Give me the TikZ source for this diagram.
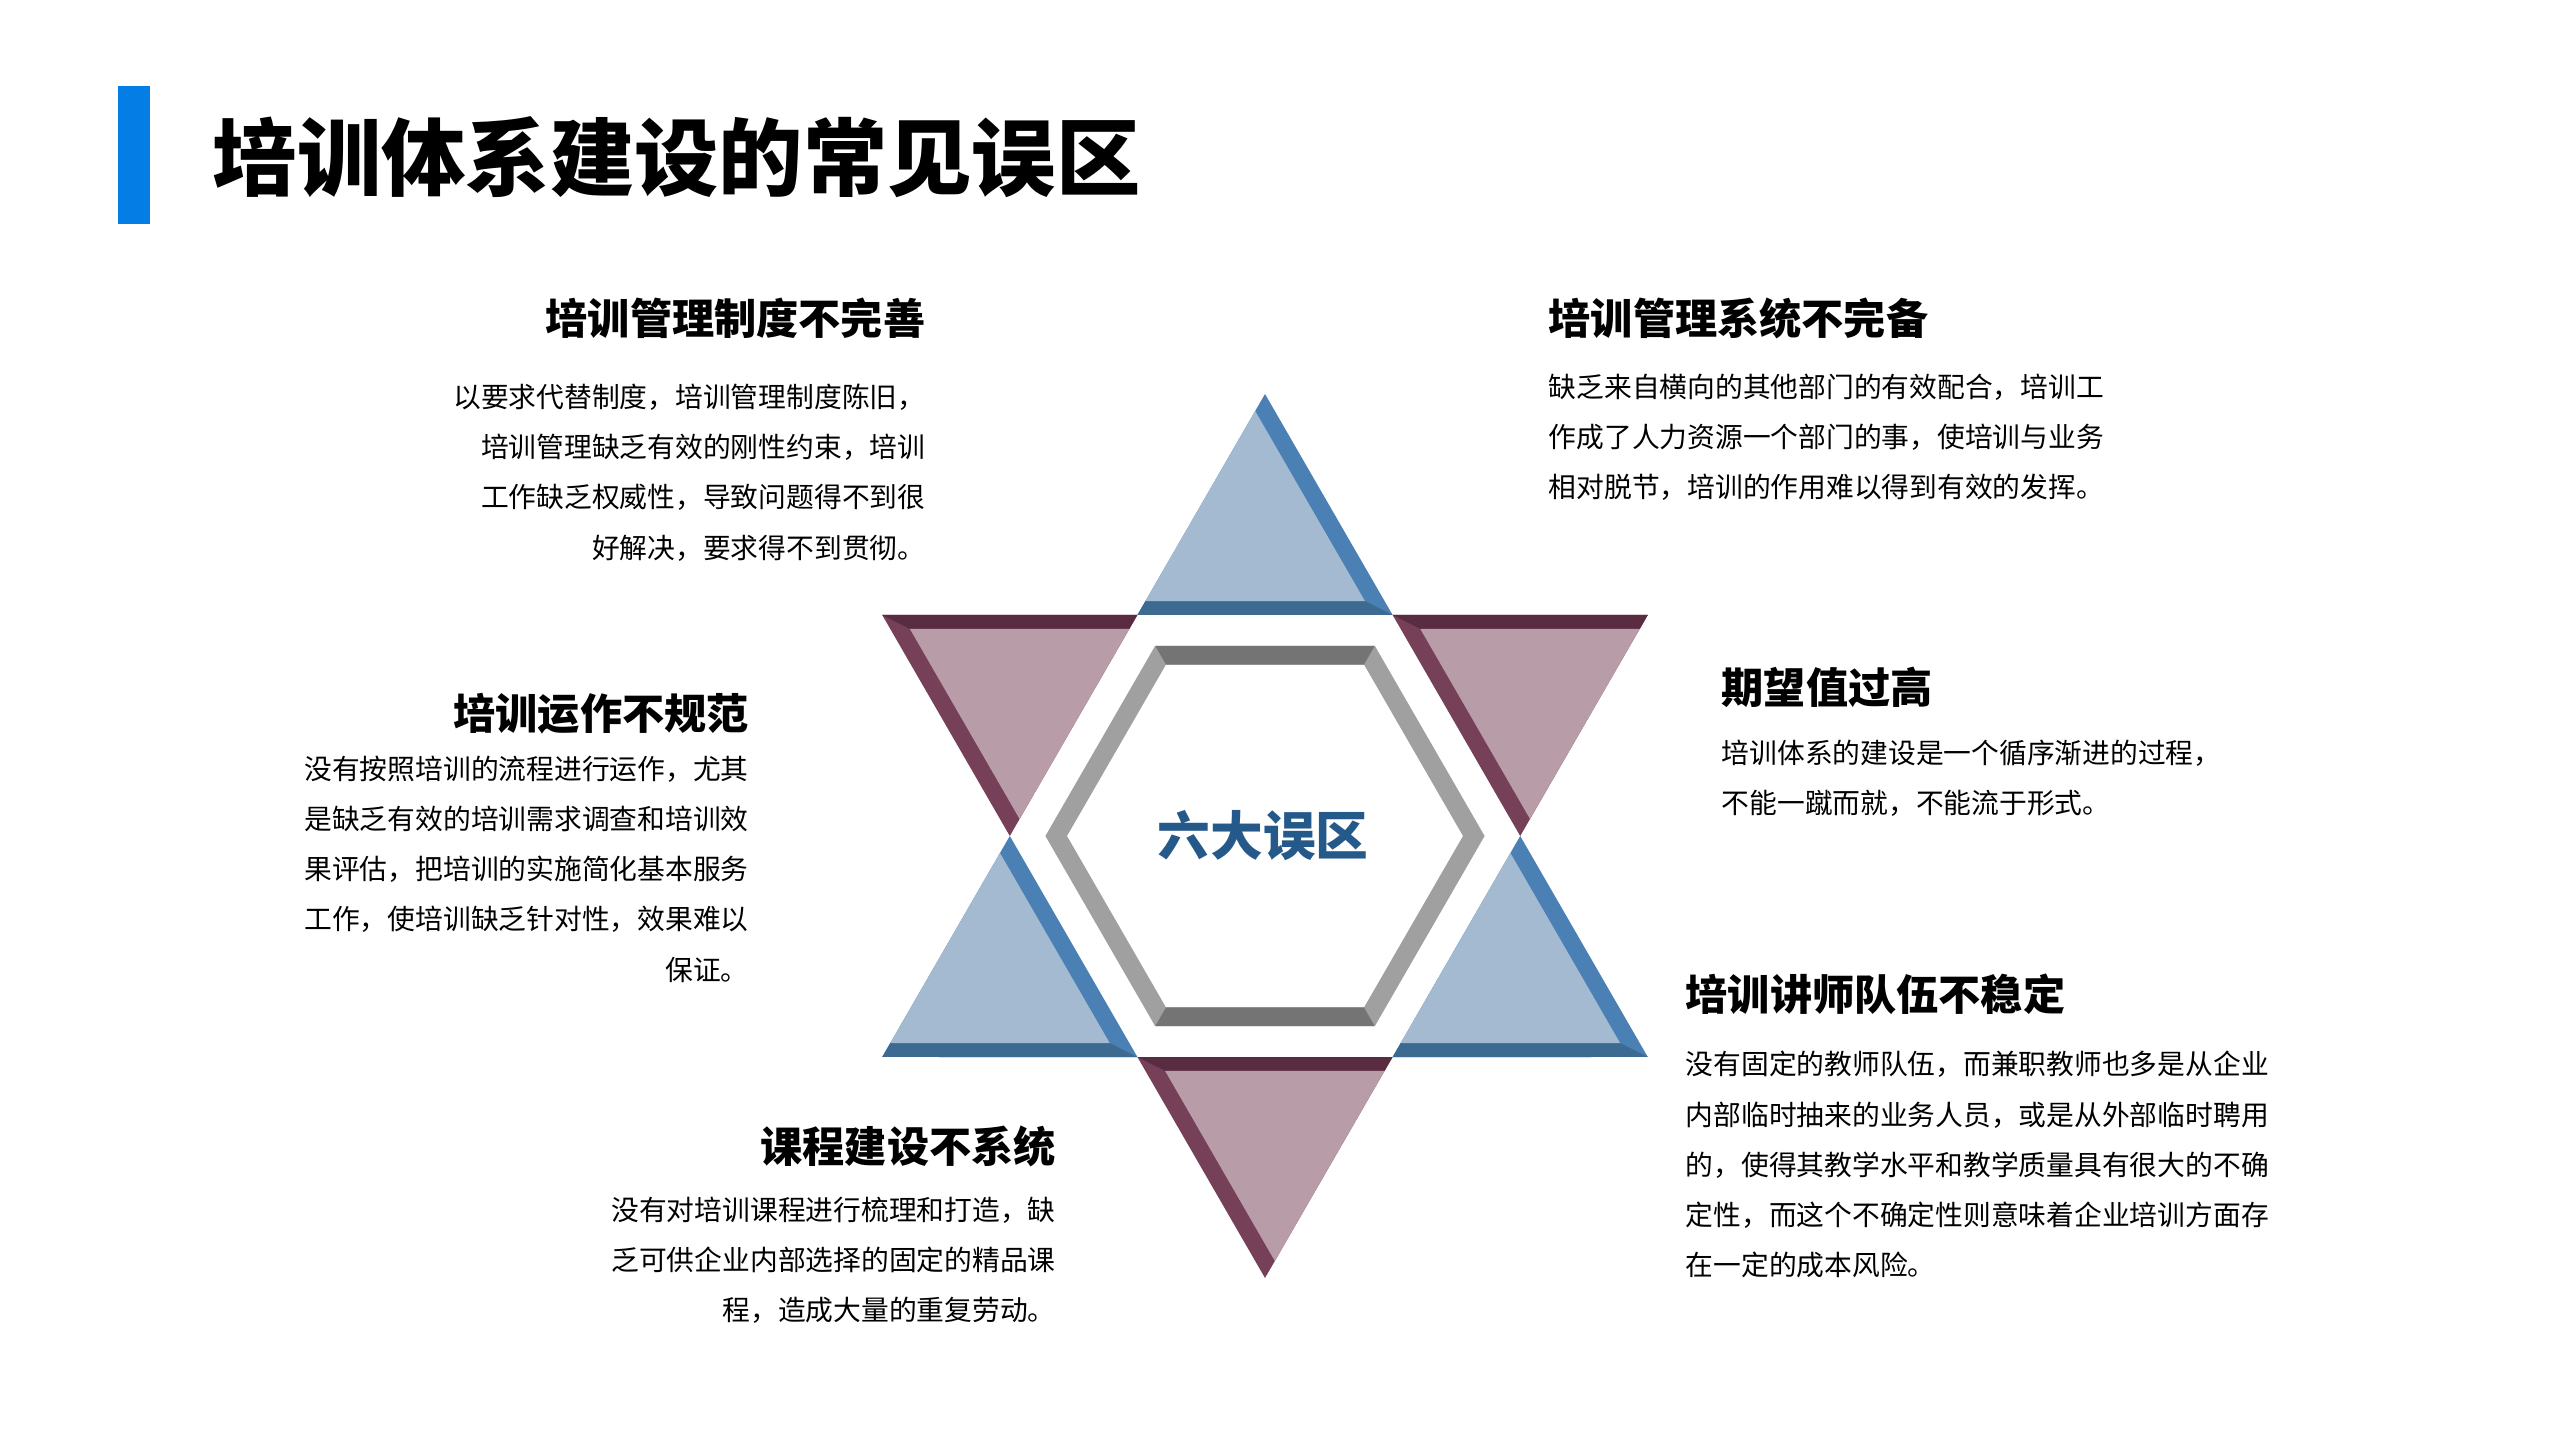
\documentclass[tikz,border=0pt]{standalone}
\usepackage{fontspec}
\setmainfont{Noto Sans CJK SC}
\usepackage{tikz}
\usetikzlibrary{calc}
\definecolor{barblue}{RGB}{4,126,228}
\definecolor{bluefill}{RGB}{164,186,209}
\definecolor{blueband}{RGB}{74,128,180}
\definecolor{bluedark}{RGB}{61,106,145}
\definecolor{purplefill}{RGB}{184,157,168}
\definecolor{purpleband}{RGB}{119,64,89}
\definecolor{purpledark}{RGB}{90,44,66}
\definecolor{ringlight}{RGB}{160,160,160}
\definecolor{ringdark}{RGB}{116,116,116}
\definecolor{coreblue}{RGB}{36,89,138}

\begin{document}
\begin{tikzpicture}
	\tikzset{title/.style = {font=\fontsize{24}{28}\selectfont\bfseries,anchor=west,inner sep=0}}
	\tikzset{head/.style = {font=\fontsize{12}{14}\selectfont\bfseries,inner sep=0}}
	\tikzset{body/.style = {font=\fontsize{7.9}{14.3}\selectfont,inner sep=0}}
	\useasboundingbox (0,0) rectangle (25.6,14.4);

	% title
	\fill[barblue] (1.175,12.163) rectangle (1.50,13.535);
	\node[title] (title) at (2.12,12.83) {培训体系建设的常见误区};

	% star corners
	\begin{scope}[shift={(12.65,6.04)}]
		\foreach \a in {30,90,...,330} \coordinate (o\a) at (\a:4.42);
		\foreach \a in {0,60,...,300} \coordinate (i\a) at (\a:2.552);
		\foreach \a in {0,60,...,300} \coordinate (g\a) at (\a:2.196);
		\foreach \a in {0,60,...,300} \coordinate (h\a) at (\a:1.98);
	\end{scope}

	% blue points
	\foreach \pa/\pb/\pc in {o90/i120/i60, i180/o210/i240, i0/i300/o330} {
		\coordinate (c) at ($(\pa)!.55!(\pb)$);
		\fill[blueband] (\pa) -- (\pb) -- (\pc) -- cycle;
		\fill[bluedark] (\pb) -- (\pc) -- ($(c)!.86!(\pc)$) -- ($(c)!.86!(\pb)$) -- cycle;
		\fill[bluefill] ($(c)!.86!(\pa)$) -- ($(c)!.86!(\pb)$) -- ($(c)!.86!(\pc)$) -- cycle;
	}
	% purple points
	\foreach \pa/\pb/\pc in {o150/i120/i180, i60/o30/i0, i240/i300/o270} {
		\coordinate (c) at ($(\pb)!.45!(\pc)$);
		\fill[purpleband] (\pa) -- (\pb) -- (\pc) -- cycle;
		\fill[purpledark] (\pa) -- (\pb) -- ($(c)!.86!(\pb)$) -- ($(c)!.86!(\pa)$) -- cycle;
		\fill[purplefill] ($(c)!.86!(\pa)$) -- ($(c)!.86!(\pb)$) -- ($(c)!.86!(\pc)$) -- cycle;
	}

	% grey ring
	\fill[ringlight,even odd rule] (g0) -- (g60) -- (g120) -- (g180) -- (g240) -- (g300) -- cycle
		(h0) -- (h60) -- (h120) -- (h180) -- (h240) -- (h300) -- cycle;
	\fill[ringdark] (g60) -- (g120) -- (h120) -- (h60) -- cycle;
	\fill[ringdark] (g240) -- (g300) -- (h300) -- (h240) -- cycle;
	\node[font=\fontsize{15}{18}\selectfont\bfseries,text=coreblue] (core) at (12.63,6.04) {六大误区};

	% texts
	\node[head,anchor=east] (h1) at (9.26,11.22) {培训管理制度不完善};
	\node[body,anchor=north east,align=right] (b1) at (9.26,10.57) {以要求代替制度，培训管理制度陈旧，\\培训管理缺乏有效的刚性约束，培训\\工作缺乏权威性，导致问题得不到很\\好解决，要求得不到贯彻。};

	\node[head,anchor=west] (h2) at (15.48,11.22) {培训管理系统不完备};
	\node[body,anchor=north west,align=left] (b2) at (15.48,10.67) {缺乏来自横向的其他部门的有效配合，培训工\\作成了人力资源一个部门的事，使培训与业务\\相对脱节，培训的作用难以得到有效的发挥。};

	\node[head,anchor=east] (h3) at (7.494,7.265) {培训运作不规范};
	\node[body,anchor=north east,align=right] (b3) at (7.494,6.85) {没有按照培训的流程进行运作，尤其\\是缺乏有效的培训需求调查和培训效\\果评估，把培训的实施简化基本服务\\工作，使培训缺乏针对性，效果难以\\保证。};

	\node[head,anchor=west] (h4) at (17.21,7.526) {期望值过高};
	\node[body,anchor=north west,align=left] (b4) at (17.21,7.01) {培训体系的建设是一个循序渐进的过程，\\不能一蹴而就，不能流于形式。};

	\node[head,anchor=west] (h5) at (16.85,4.457) {培训讲师队伍不稳定};
	\node[body,anchor=north west,align=left] (b5) at (16.85,3.895) {没有固定的教师队伍，而兼职教师也多是从企业\\内部临时抽来的业务人员，或是从外部临时聘用\\的，使得其教学水平和教学质量具有很大的不确\\定性，而这个不确定性则意味着企业培训方面存\\在一定的成本风险。};

	\node[head,anchor=east] (h6) at (10.564,2.94) {课程建设不系统};
	\node[body,anchor=north east,align=right] (b6) at (10.564,2.44) {没有对培训课程进行梳理和打造，缺\\乏可供企业内部选择的固定的精品课\\程，造成大量的重复劳动。};
\end{tikzpicture}
\end{document}
